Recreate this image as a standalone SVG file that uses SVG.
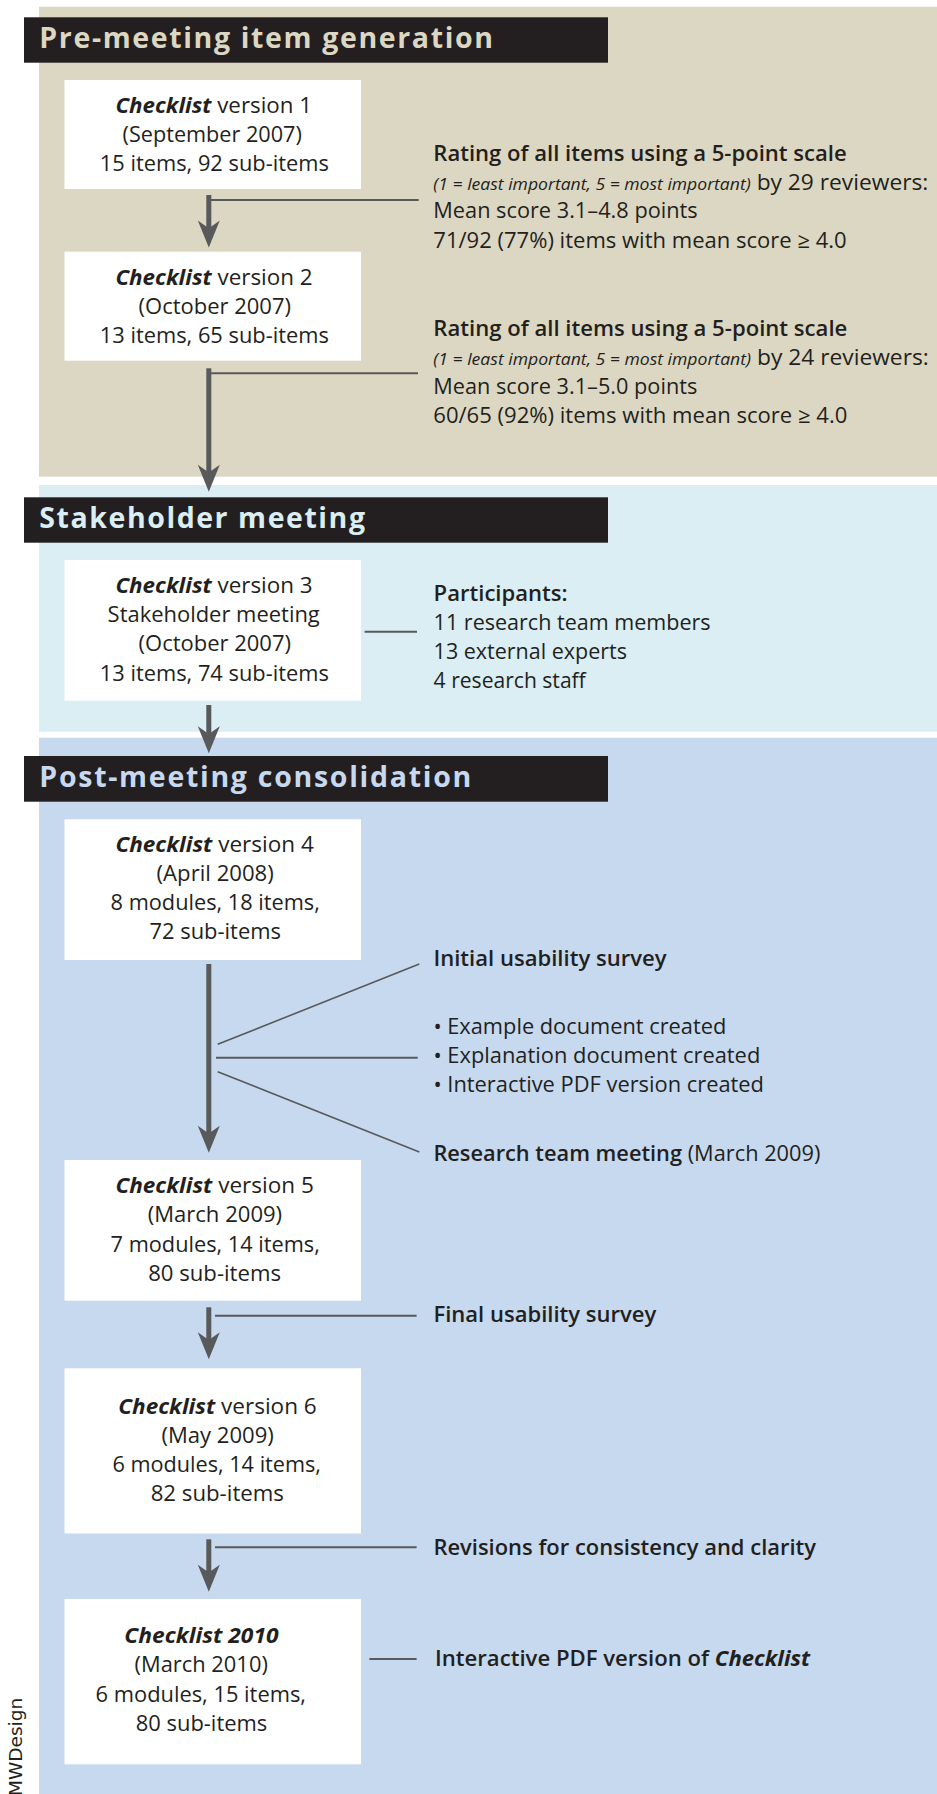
<svg xmlns="http://www.w3.org/2000/svg" width="937" height="1794" viewBox="0 0 937 1794">
<defs>
<style>
text{font-family:"Open Sans","Liberation Sans",sans-serif;fill:#231F20;font-size:21.5px}
.title{font-weight:700;font-size:28.5px}
.b{font-weight:600}
.bi{font-weight:700;font-style:italic}
.it{font-style:italic;font-size:16.6px}
.box{fill:#FFFFFF}
.bar{fill:#231F20}
.shaft{stroke:#58595B;stroke-width:5;fill:none}
.head{fill:#58595B}
.conn{stroke:#58595B;stroke-width:2;fill:none}
.fan{stroke:#58595B;stroke-width:1.6;fill:none}
</style>
</defs>
<rect width="937" height="1794" fill="#FFFFFF"/>

<g id="panel-pre">
<rect x="39" y="6.7" width="898" height="470" fill="#DCD7C2"/>
<rect class="bar" x="24" y="17.3" width="584" height="45.4"/>
<text class="title" x="39.3" y="48.3" textLength="453.7" lengthAdjust="spacing" style="fill:#DCD7C2">Pre-meeting item generation</text>
</g>
<g id="panel-stake">
<rect x="39" y="485" width="898" height="246.7" fill="#DAEEF3"/>
<rect class="bar" x="24" y="497.3" width="584" height="45.4"/>
<text class="title" x="39.3" y="527.8" textLength="325.7" lengthAdjust="spacing" style="fill:#DAEEF3">Stakeholder meeting</text>
</g>
<g id="panel-post">
<rect x="39" y="737.7" width="898" height="1056.3" fill="#C6D9EF"/>
<rect class="bar" x="24" y="756" width="584" height="45.7"/>
<text class="title" x="39.3" y="787" textLength="432" lengthAdjust="spacing" style="fill:#C6D9EF">Post-meeting consolidation</text>
</g>

<g id="connectors">
<line class="shaft" x1="208.8" y1="195" x2="208.8" y2="228"/>
<path class="head" d="M208.8,247.5 L197.8,220.5 L206.3,226.5 L211.3,226.5 L219.8,220.5 Z"/>
<line class="conn" x1="211" y1="200" x2="418.7" y2="200"/>

<line class="shaft" x1="208.8" y1="368.3" x2="208.8" y2="472"/>
<path class="head" d="M208.8,491.7 L197.8,464.7 L206.3,470.7 L211.3,470.7 L219.8,464.7 Z"/>
<line class="conn" x1="211" y1="373.3" x2="418" y2="373.3"/>

<line class="conn" x1="364.6" y1="631.7" x2="417" y2="631.7"/>

<line class="shaft" x1="208.8" y1="705" x2="208.8" y2="734"/>
<path class="head" d="M208.8,753.3 L197.8,726.3 L206.3,732.3 L211.3,732.3 L219.8,726.3 Z"/>

<line class="shaft" x1="208.8" y1="964" x2="208.8" y2="1133"/>
<path class="head" d="M208.8,1152.7 L197.8,1125.7 L206.3,1131.7 L211.3,1131.7 L219.8,1125.7 Z"/>
<line class="fan" x1="217.7" y1="1044.3" x2="419.3" y2="964"/>
<line class="conn" x1="216" y1="1057.7" x2="417.7" y2="1057.7"/>
<line class="fan" x1="217.7" y1="1071.7" x2="419.3" y2="1152"/>

<line class="shaft" x1="208.8" y1="1307.3" x2="208.8" y2="1340"/>
<path class="head" d="M208.8,1359.3 L197.8,1332.3 L206.3,1338.3 L211.3,1338.3 L219.8,1332.3 Z"/>
<line class="conn" x1="215" y1="1315.7" x2="416.6" y2="1315.7"/>

<line class="shaft" x1="208.8" y1="1539.3" x2="208.8" y2="1572"/>
<path class="head" d="M208.8,1591.7 L197.8,1564.7 L206.3,1570.7 L211.3,1570.7 L219.8,1564.7 Z"/>
<line class="conn" x1="215" y1="1547.3" x2="416.6" y2="1547.3"/>

<line class="conn" x1="369.4" y1="1659" x2="416.6" y2="1659"/>
</g>

<g id="v1">
<rect class="box" x="64.5" y="80" width="296.5" height="109"/>
<text x="213.7" y="112.7" text-anchor="middle" textLength="196.6" lengthAdjust="spacingAndGlyphs"><tspan class="bi">Checklist</tspan> version 1</text>
<text x="212.2" y="141.7" text-anchor="middle" textLength="179.4" lengthAdjust="spacingAndGlyphs">(September 2007)</text>
<text x="214.3" y="170.7" text-anchor="middle" textLength="229" lengthAdjust="spacingAndGlyphs">15 items, 92 sub-items</text>
</g>
<g id="rating1">
<text class="b" x="433.3" y="160.7" textLength="413.4" lengthAdjust="spacingAndGlyphs">Rating of all items using a 5-point scale</text>
<text x="433.3" y="190" textLength="495" lengthAdjust="spacingAndGlyphs"><tspan class="it">(1 = least important, 5 = most important)</tspan> by 29 reviewers:</text>
<text x="433.3" y="218.3" textLength="264.4" lengthAdjust="spacingAndGlyphs">Mean score 3.1–4.8 points</text>
<text x="433.3" y="248.3" textLength="413.4" lengthAdjust="spacingAndGlyphs">71/92 (77%) items with mean score ≥ 4.0</text>
</g>

<g id="v2">
<rect class="box" x="64.5" y="251.7" width="296.5" height="109"/>
<text x="214" y="284.5" text-anchor="middle" textLength="197.2" lengthAdjust="spacingAndGlyphs"><tspan class="bi">Checklist</tspan> version 2</text>
<text x="214.8" y="313.5" text-anchor="middle" textLength="152.4" lengthAdjust="spacingAndGlyphs">(October 2007)</text>
<text x="214.3" y="342.5" text-anchor="middle" textLength="229" lengthAdjust="spacingAndGlyphs">13 items, 65 sub-items</text>
</g>
<g id="rating2">
<text class="b" x="433.3" y="335.7" textLength="414" lengthAdjust="spacingAndGlyphs">Rating of all items using a 5-point scale</text>
<text x="433.3" y="365" textLength="495.5" lengthAdjust="spacingAndGlyphs"><tspan class="it">(1 = least important, 5 = most important)</tspan> by 24 reviewers:</text>
<text x="433.3" y="393.5" textLength="264" lengthAdjust="spacingAndGlyphs">Mean score 3.1–5.0 points</text>
<text x="433.3" y="423.3" textLength="414" lengthAdjust="spacingAndGlyphs">60/65 (92%) items with mean score ≥ 4.0</text>
</g>

<g id="v3">
<rect class="box" x="64.5" y="560" width="296.5" height="140.7"/>
<text x="214" y="592.6" text-anchor="middle" textLength="197.2" lengthAdjust="spacingAndGlyphs"><tspan class="bi">Checklist</tspan> version 3</text>
<text x="213.7" y="622" text-anchor="middle" textLength="212.2" lengthAdjust="spacingAndGlyphs">Stakeholder meeting</text>
<text x="214.8" y="651" text-anchor="middle" textLength="152.4" lengthAdjust="spacingAndGlyphs">(October 2007)</text>
<text x="214.3" y="680.5" text-anchor="middle" textLength="229" lengthAdjust="spacingAndGlyphs">13 items, 74 sub-items</text>
</g>
<g id="participants">
<text class="b" x="433.6" y="601" textLength="134" lengthAdjust="spacingAndGlyphs">Participants:</text>
<text x="433.6" y="630" textLength="277" lengthAdjust="spacingAndGlyphs">11 research team members</text>
<text x="433.6" y="659" textLength="193.4" lengthAdjust="spacingAndGlyphs">13 external experts</text>
<text x="433.6" y="688" textLength="152.2" lengthAdjust="spacingAndGlyphs">4 research staff</text>
</g>

<g id="v4">
<rect class="box" x="64.5" y="819.3" width="296.5" height="140.7"/>
<text x="214.6" y="852" text-anchor="middle" textLength="198.4" lengthAdjust="spacingAndGlyphs"><tspan class="bi">Checklist</tspan> version 4</text>
<text x="215.2" y="881" text-anchor="middle" textLength="117.2" lengthAdjust="spacingAndGlyphs">(April 2008)</text>
<text x="215.2" y="910" text-anchor="middle" textLength="209.2" lengthAdjust="spacingAndGlyphs">8 modules, 18 items,</text>
<text x="215.2" y="939" text-anchor="middle" textLength="131.5" lengthAdjust="spacingAndGlyphs">72 sub-items</text>
</g>
<g id="usability1">
<text class="b" x="433.4" y="966" textLength="233.2" lengthAdjust="spacingAndGlyphs">Initial usability survey</text>
<text x="433.4" y="1034" textLength="292.9" lengthAdjust="spacingAndGlyphs">• Example document created</text>
<text x="433.4" y="1063" textLength="326.9" lengthAdjust="spacingAndGlyphs">• Explanation document created</text>
<text x="433.4" y="1092" textLength="330.6" lengthAdjust="spacingAndGlyphs">• Interactive PDF version created</text>
<text x="433.4" y="1161" textLength="387" lengthAdjust="spacingAndGlyphs"><tspan class="b">Research team meeting</tspan> (March 2009)</text>
</g>

<g id="v5">
<rect class="box" x="64.5" y="1160" width="296.5" height="140.7"/>
<text x="214.6" y="1193" text-anchor="middle" textLength="198.4" lengthAdjust="spacingAndGlyphs"><tspan class="bi">Checklist</tspan> version 5</text>
<text x="214.9" y="1222" text-anchor="middle" textLength="134.5" lengthAdjust="spacingAndGlyphs">(March 2009)</text>
<text x="215.2" y="1251.5" text-anchor="middle" textLength="209.2" lengthAdjust="spacingAndGlyphs">7 modules, 14 items,</text>
<text x="214.6" y="1280.5" text-anchor="middle" textLength="132.8" lengthAdjust="spacingAndGlyphs">80 sub-items</text>
</g>
<g id="final-survey">
<text class="b" x="433.4" y="1322" textLength="222.9" lengthAdjust="spacingAndGlyphs">Final usability survey</text>
</g>

<g id="v6">
<rect class="box" x="64.5" y="1368.3" width="296.5" height="165.2"/>
<text x="217.5" y="1414" text-anchor="middle" textLength="198.5" lengthAdjust="spacingAndGlyphs"><tspan class="bi">Checklist</tspan> version 6</text>
<text x="217.6" y="1443" text-anchor="middle" textLength="112.4" lengthAdjust="spacingAndGlyphs">(May 2009)</text>
<text x="216.7" y="1472" text-anchor="middle" textLength="208.6" lengthAdjust="spacingAndGlyphs">6 modules, 14 items,</text>
<text x="217.3" y="1501" text-anchor="middle" textLength="133.3" lengthAdjust="spacingAndGlyphs">82 sub-items</text>
</g>
<g id="revisions">
<text class="b" x="433.4" y="1555" textLength="382.6" lengthAdjust="spacingAndGlyphs">Revisions for consistency and clarity</text>
</g>

<g id="v2010">
<rect class="box" x="64.5" y="1599" width="296.5" height="165.3"/>
<text class="bi" x="201.4" y="1643" text-anchor="middle" textLength="154.2" lengthAdjust="spacingAndGlyphs">Checklist 2010</text>
<text x="201.2" y="1672" text-anchor="middle" textLength="133.3" lengthAdjust="spacingAndGlyphs">(March 2010)</text>
<text x="200.8" y="1701.5" text-anchor="middle" textLength="210.4" lengthAdjust="spacingAndGlyphs">6 modules, 15 items,</text>
<text x="201.5" y="1730.5" text-anchor="middle" textLength="131.5" lengthAdjust="spacingAndGlyphs">80 sub-items</text>
</g>
<g id="pdf">
<text class="b" x="435" y="1665.5" textLength="375" lengthAdjust="spacingAndGlyphs">Interactive PDF version of <tspan class="bi">Checklist</tspan></text>
</g>

<text transform="translate(22,1796) rotate(-90)" style="font-family:'DejaVu Sans',sans-serif;font-size:18.5px;fill:#231F20">MWDesign</text>
</svg>
